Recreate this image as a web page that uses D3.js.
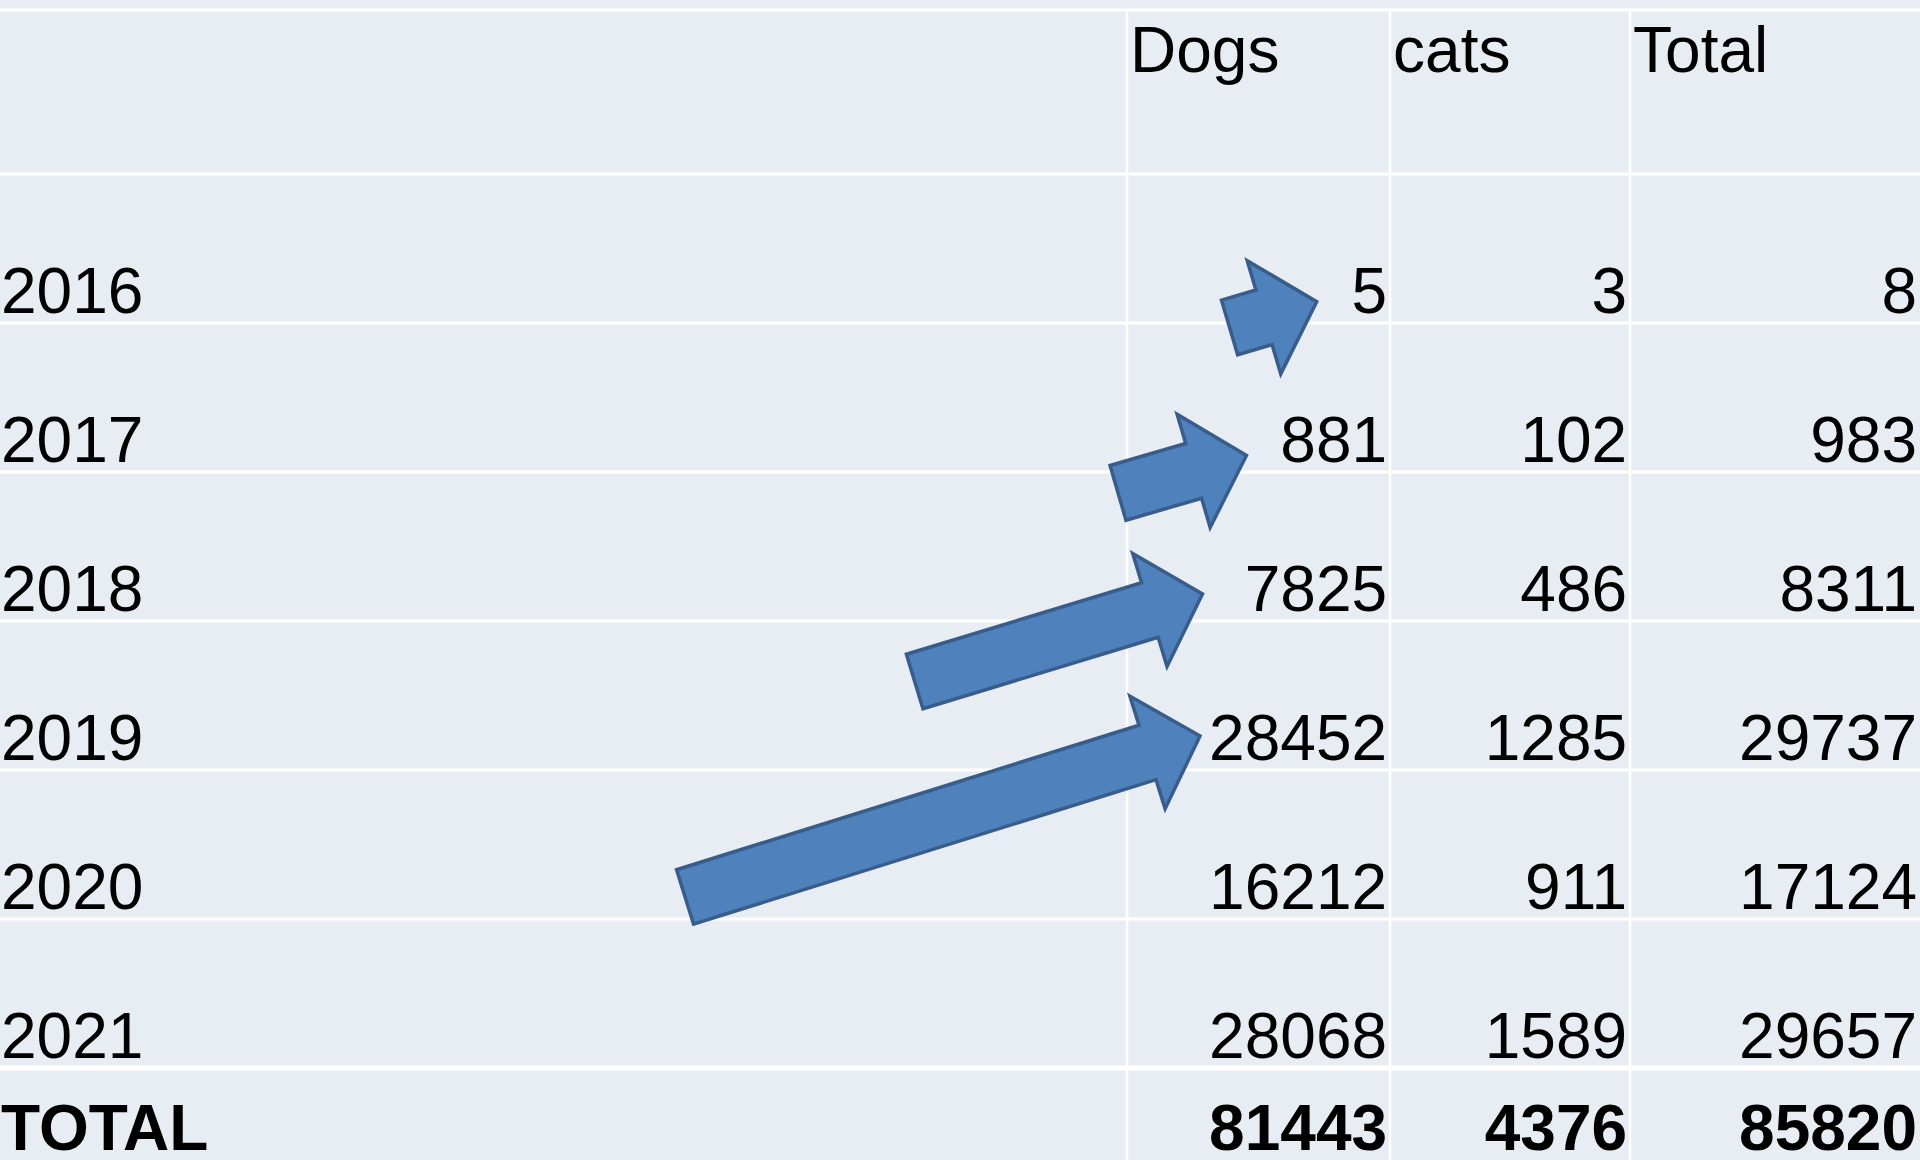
<!DOCTYPE html>
<html>
<head>
<meta charset="utf-8">
<script src="https://cdn.jsdelivr.net/npm/d3@7"></script>
<style>
  body { margin: 0; background: #e8edf4; overflow: hidden; }
  text { font-family: "Liberation Sans", Arial, sans-serif; fill: #000; }
</style>
</head>
<body>
<svg id="chart"></svg>
<script>
// Table data
const years = ["2016", "2017", "2018", "2019", "2020", "2021"];
const dogs = [5, 881, 7825, 28452, 16212, 28068];
const cats = [3, 102, 486, 1285, 911, 1589];
const totals = [8, 983, 8311, 29737, 17124, 29657];
const columnNames = ["Dogs", "cats", "Total"];
const totalLabel = "TOTAL";
const grandTotals = [81443, 4376, 85820];

// Arrow annotations, in table units (x = share of width, y = rows below header)
const arrowTailX = [0.6404, 0.5823, 0.4764, 0.3568];
const arrowTailRow = [1.03, 2.14, 3.406, 4.852];
const arrowTipX = [0.6858, 0.6492, 0.6263, 0.625];
const arrowTipRow = [0.857, 1.889, 2.819, 3.772];

// Layout
const width = 1920, height = 1160;
const headerTop = 10, headerBottom = 174, rowHeight = 149;
const colEdges = [0, 0.587, 0.724, 0.849, 1];   // shares of width
const fontSize = 64;

const svg = d3.select("#chart")
    .attr("width", width)
    .attr("height", height)
    .attr("viewBox", [0, 0, width, height]);

svg.append("rect")
    .attr("width", width).attr("height", height)
    .attr("fill", "#e8edf4");

const x = d3.scaleLinear().domain([0, 1]).range([0, width]);
const y = d3.scaleLinear().domain([0, 1]).range([headerBottom, headerBottom + rowHeight]);

const rows = years.map((yr, i) => ({label: yr, values: [dogs[i], cats[i], totals[i]], bold: false}));
rows.push({label: totalLabel, values: grandTotals, bold: true});

// baseline of a row: near the bottom of the cell, last row is cut by the page
const baseline = i => Math.min(y(i + 1), height) - 10;

// Grid lines
const grid = svg.append("g").attr("stroke", "#fff");
const hLines = [headerTop, ...d3.range(0, rows.length).map(i => y(i))];
grid.selectAll("line.h")
    .data(hLines)
    .join("line")
    .attr("class", "h")
    .attr("x1", 0).attr("x2", width)
    .attr("y1", d => d).attr("y2", d => d)
    .attr("stroke-width", (d, i) => i === hLines.length - 1 ? 5 : 3);

grid.selectAll("line.v")
    .data(colEdges.slice(1, -1))
    .join("line")
    .attr("class", "v")
    .attr("x1", d => x(d)).attr("x2", d => x(d))
    .attr("y1", headerTop).attr("y2", height)
    .attr("stroke-width", 2.5);

// Header
svg.append("g")
    .selectAll("text")
    .data(columnNames)
    .join("text")
    .attr("x", (d, i) => x(colEdges[i + 1]) + 3)
    .attr("y", 72)
    .attr("font-size", fontSize)
    .text(d => d);

// Rows
const rowG = svg.append("g")
    .selectAll("g")
    .data(rows)
    .join("g")
    .attr("font-size", fontSize)
    .attr("font-weight", d => d.bold ? "bold" : "normal");

rowG.append("text")
    .attr("x", 1)
    .attr("y", (d, i) => baseline(i))
    .text(d => d.label);

rowG.selectAll("text.num")
    .data((d, i) => d.values.map(v => ({v, row: i})))
    .join("text")
    .attr("class", "num")
    .attr("x", (d, j) => x(colEdges[j + 2]) - 3)
    .attr("y", d => baseline(d.row))
    .attr("text-anchor", "end")
    .text(d => d.v);

// Block arrows
const shaftHalf = 28.5, headHalf = 59, headLen = 55;
function arrowPath(i) {
    const tx = x(arrowTailX[i]), ty = y(arrowTailRow[i]);
    const px = x(arrowTipX[i]), py = y(arrowTipRow[i]);
    const len = Math.hypot(px - tx, py - ty);
    const ux = (px - tx) / len, uy = (py - ty) / len;
    const nx = -uy, ny = ux;
    const bx = px - ux * headLen, by = py - uy * headLen;
    const pts = [
        [tx + nx * shaftHalf, ty + ny * shaftHalf],
        [bx + nx * shaftHalf, by + ny * shaftHalf],
        [bx + nx * headHalf, by + ny * headHalf],
        [px, py],
        [bx - nx * headHalf, by - ny * headHalf],
        [bx - nx * shaftHalf, by - ny * shaftHalf],
        [tx - nx * shaftHalf, ty - ny * shaftHalf]
    ];
    return d3.line()(pts) + "Z";
}

svg.append("g")
    .selectAll("path")
    .data(d3.range(arrowTipX.length))
    .join("path")
    .attr("d", i => arrowPath(i))
    .attr("fill", "#4f81bd")
    .attr("stroke", "#385d8a")
    .attr("stroke-width", 3.5)
    .attr("stroke-linejoin", "miter");
</script>
</body>
</html>
